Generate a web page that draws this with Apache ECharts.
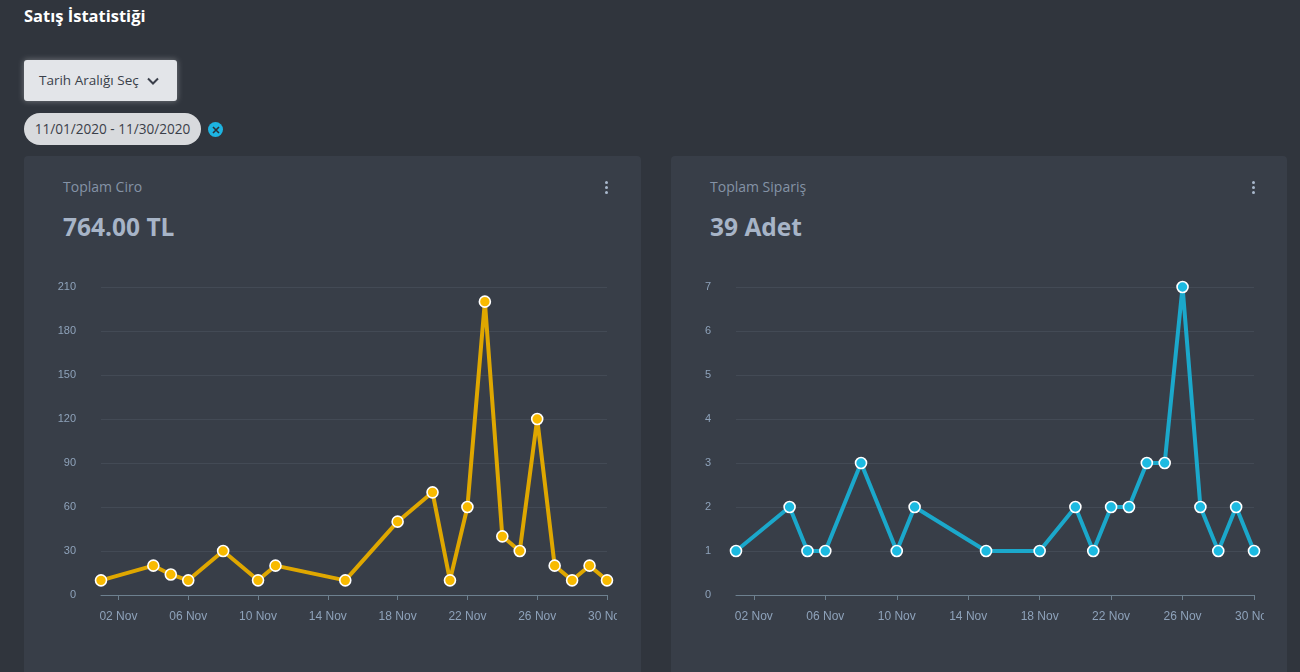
<!DOCTYPE html>
<html>
<head>
<meta charset="utf-8">
<script src="https://cdn.jsdelivr.net/npm/echarts@6/dist/echarts.min.js"></script>
<style>
  html, body { margin: 0; padding: 0; width: 1300px; height: 672px; overflow: hidden; background: #30353d; font-family: "Open Sans", "Noto Sans", sans-serif; }
  .page-title { position: absolute; left: 24px; top: 4px; color: #fff; font-size: 16.5px; font-weight: 700; }
  .btn { position: absolute; left: 24px; top: 60px; width: 153px; height: 41px; background: #e3e5e9; border-radius: 3px; box-shadow: 0 0 6px rgba(255,255,255,0.35); color: #3a3f4a; font-size: 13.5px; line-height: 41px; box-sizing: border-box; padding-left: 15px; }
  .btn svg { position: absolute; left: 123px; top: 17px; }
  .chip { position: absolute; left: 24px; top: 113px; width: 177px; height: 32px; background: #d8dadd; border-radius: 16px; color: #3b3f4a; font-size: 13.6px; line-height: 32px; text-align: center; }
  .chip-x { position: absolute; left: 208px; top: 122px; width: 15px; height: 15px; border-radius: 50%; background: #1db4e2; }
  .chip-x svg { position: absolute; left: 3.5px; top: 3.5px; }
  .card { position: absolute; top: 156px; height: 540px; background: #383e48; border-radius: 4px; }
  .card-title { position: absolute; left: 39px; top: 21px; color: #8593a6; font-size: 14px; }
  .card-value { position: absolute; left: 39px; top: 54px; color: #a7b4c7; font-size: 24.5px; font-weight: 700; }
  .kebab { position: absolute; top: 25px; width: 3px; }
  .kebab i { display: block; width: 3px; height: 3px; border-radius: 50%; background: #a8b8cc; margin-bottom: 2px; }
  .chart { position: absolute; top: 260px; height: 390px; }
</style>
</head>
<body>
<div class="page-title">Satış İstatistiği</div>
<div class="btn">Tarih Aralığı Seç
  <svg width="12" height="8" viewBox="0 0 12 8"><path d="M1 1.5 L6 6.5 L11 1.5" stroke="#3a3f4a" stroke-width="2" fill="none"/></svg>
</div>
<div class="chip">11/01/2020 - 11/30/2020</div>
<div class="chip-x"><svg width="8" height="8" viewBox="0 0 8 8"><path d="M1 1 L7 7 M7 1 L1 7" stroke="#2b3038" stroke-width="1.6"/></svg></div>

<div class="card" style="left:24px;width:617px;">
  <div class="card-title">Toplam Ciro</div>
  <div class="card-value">764.00 TL</div>
  <div class="kebab" style="left:581px;"><i></i><i></i><i></i></div>
</div>
<div class="card" style="left:671px;width:616px;">
  <div class="card-title">Toplam Sipariş</div>
  <div class="card-value">39 Adet</div>
  <div class="kebab" style="left:581px;"><i></i><i></i><i></i></div>
</div>

<div id="ciro" class="chart" style="left:24px;width:593px;"></div>
<div id="siparis" class="chart" style="left:671px;width:593px;"></div>

<script>
const dayAxis = ['01 Nov', '02 Nov', '03 Nov', '04 Nov', '05 Nov', '06 Nov', '07 Nov', '08 Nov', '09 Nov', '10 Nov',
	'11 Nov', '12 Nov', '13 Nov', '14 Nov', '15 Nov', '16 Nov', '17 Nov', '18 Nov', '19 Nov', '20 Nov',
	'21 Nov', '22 Nov', '23 Nov', '24 Nov', '25 Nov', '26 Nov', '27 Nov', '28 Nov', '29 Nov', '30 Nov'];

const saleDays = ['01 Nov', '04 Nov', '05 Nov', '06 Nov', '08 Nov', '10 Nov', '11 Nov', '15 Nov', '18 Nov', '20 Nov',
	'21 Nov', '22 Nov', '23 Nov', '24 Nov', '25 Nov', '26 Nov', '27 Nov', '28 Nov', '29 Nov', '30 Nov'];
const ciro = [10, 20, 14, 10, 30, 10, 20, 10, 50, 70, 10, 60, 200, 40, 30, 120, 20, 10, 20, 10];
const siparis = [1, 2, 1, 1, 3, 1, 2, 1, 1, 2, 1, 2, 2, 3, 3, 7, 2, 1, 2, 1];

let makeOption = function(values, gridLeft, yMax, yStep, lineColor, dotColor) {
	let pairs = [];
	for (let i = 0; i < saleDays.length; i++) {
		pairs.push([saleDays[i], values[i]]);
	}
	let every4 = (idx) => idx % 4 === 1;
	return {
		animation: false,
		grid: { left: gridLeft, right: 10, top: 27, bottom: 55, outerBoundsMode: 'none', containLabel: false },
		xAxis: {
			type: 'category',
			data: dayAxis,
			boundaryGap: false,
			axisLine: { lineStyle: { color: '#6d808f', width: 1 } },
			axisTick: { interval: every4, length: 5, lineStyle: { color: '#6d808f' } },
			axisLabel: {
				interval: every4,
				hideOverlap: false,
				color: '#8ea2ba',
				fontSize: 12,
				fontFamily: 'Liberation Sans, Arial, sans-serif',
				margin: 16
			},
			splitLine: { show: false }
		},
		yAxis: {
			type: 'value',
			min: 0,
			max: yMax,
			interval: yStep,
			axisLine: { show: false },
			axisTick: { show: false },
			axisLabel: {
				color: '#8ea2ba',
				fontSize: 11,
				fontFamily: 'Liberation Sans, Arial, sans-serif',
				margin: 25
			},
			splitLine: { lineStyle: { color: '#434a55', width: 1 } }
		},
		series: [{
			type: 'line',
			data: pairs,
			symbol: 'circle',
			symbolSize: 11,
			showSymbol: true,
			showAllSymbol: true,
			lineStyle: { color: lineColor, width: 4 },
			itemStyle: { color: dotColor, borderColor: '#ffffff', borderWidth: 1.6 }
		}]
	};
};

const ciroChart = echarts.init(document.getElementById('ciro'));
ciroChart.setOption(makeOption(ciro, 77, 210, 30, '#dfa700', '#f8ba00'));

const siparisChart = echarts.init(document.getElementById('siparis'));
siparisChart.setOption(makeOption(siparis, 65, 7, 1, '#1ba8cb', '#1cbae1'));
</script>
</body>
</html>
